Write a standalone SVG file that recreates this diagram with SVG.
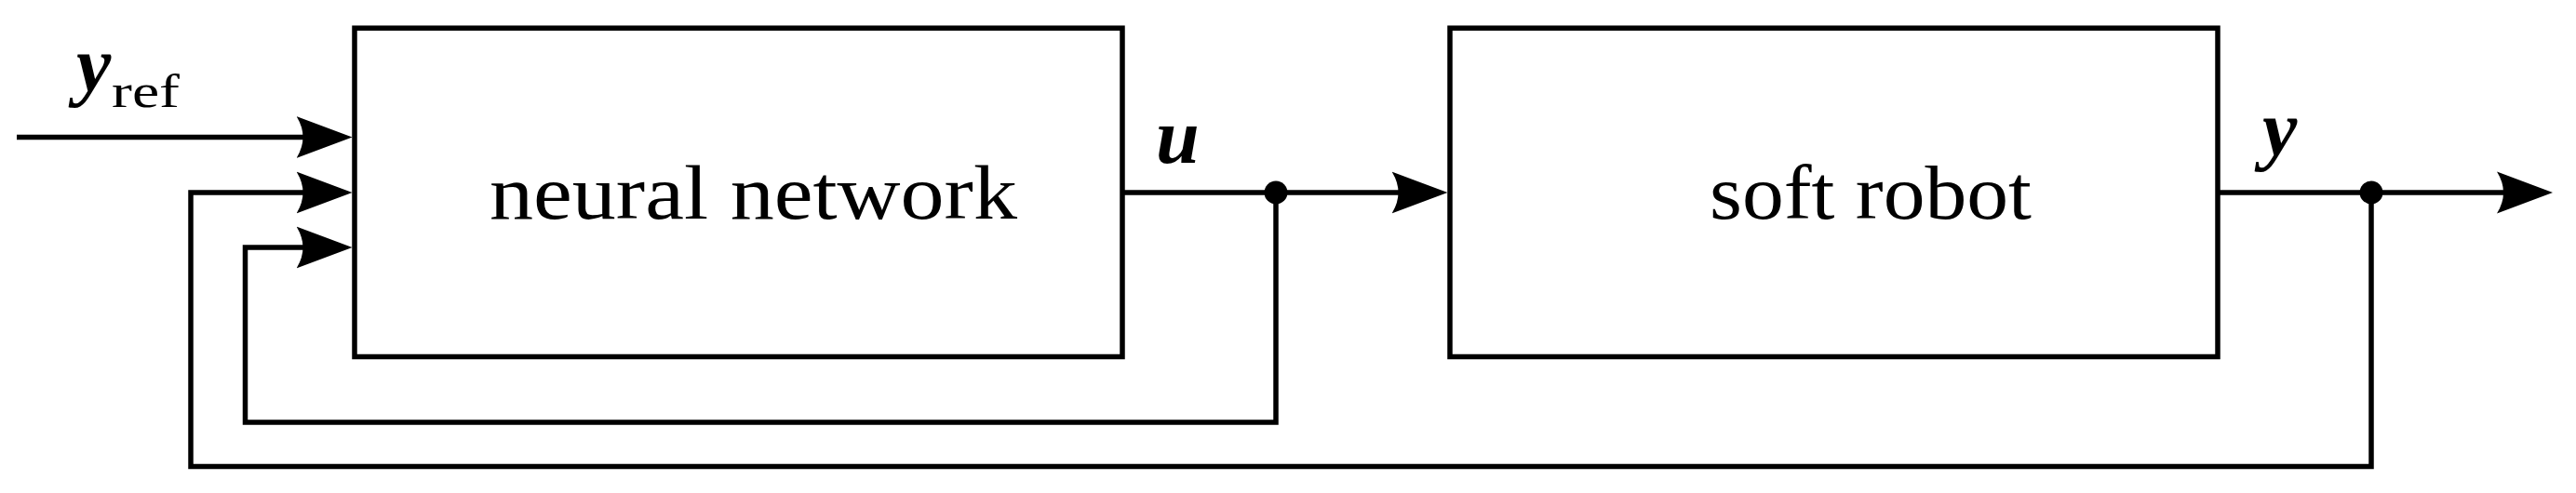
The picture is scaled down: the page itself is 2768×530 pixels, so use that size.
<svg xmlns="http://www.w3.org/2000/svg" width="2768" height="530" viewBox="0 0 2768 530">
  <style>
    .box { fill: #ffffff; stroke: #000000; stroke-width: 5.5; }
    .wire { fill: none; stroke: #000000; stroke-width: 5.5; stroke-linejoin: miter; stroke-linecap: butt; }
    .label { font-family: "Liberation Serif", "Times New Roman", serif; fill: #000000; }
    .math { font-family: "Liberation Serif", "Times New Roman", serif; font-style: italic; font-weight: bold; fill: #000000; }
    .dot { fill: #000000; }
  </style>
  <defs>
    <marker id="arrow" markerUnits="userSpaceOnUse" viewBox="0 -25 62 50" markerWidth="62" markerHeight="50" refX="10" refY="0" orient="auto">
      <path d="M60,0 L0,-22.5 Q14,0 0,22.5 Z" fill="#000000"/>
    </marker>
  </defs>
  <rect width="2768" height="530" fill="#ffffff"/>

  <g id="connectors">
    <path id="c-yref" class="wire" d="M18,147.5 H328.5" marker-end="url(#arrow)"/>
    <path id="c-u" class="wire" d="M1206,207 H1505.5" marker-end="url(#arrow)"/>
    <path id="c-y" class="wire" d="M2383,207 H2693" marker-end="url(#arrow)"/>
    <path id="c-fb-outer" class="wire" d="M2548,207 V501.5 H205 V207 H328.5" marker-end="url(#arrow)"/>
    <path id="c-fb-inner" class="wire" d="M1371,207 V454 H263.5 V266 H328.5" marker-end="url(#arrow)"/>
    <circle class="dot" cx="1371" cy="207" r="12.5"/>
    <circle class="dot" cx="2548" cy="207" r="12.5"/>
    <text class="math" x="1242" y="175" font-size="84">u</text>
    <text class="math" x="2431" y="167" font-size="84">y</text>
    <g id="label-yref">
      <text class="math" x="82" y="98" font-size="84">y</text>
      <text class="label" x="120" y="115" font-size="51" textLength="73" lengthAdjust="spacingAndGlyphs">ref</text>
    </g>
  </g>

  <g id="node-neural-network">
    <rect class="box" x="381" y="30.2" width="825" height="353.3"/>
    <text class="label" x="526" y="235" font-size="83" textLength="567" lengthAdjust="spacingAndGlyphs">neural network</text>
  </g>

  <g id="node-soft-robot">
    <rect class="box" x="1558" y="30.2" width="825" height="353.3"/>
    <text class="label" x="1837" y="235" font-size="83" textLength="346" lengthAdjust="spacingAndGlyphs">soft robot</text>
  </g>
</svg>
